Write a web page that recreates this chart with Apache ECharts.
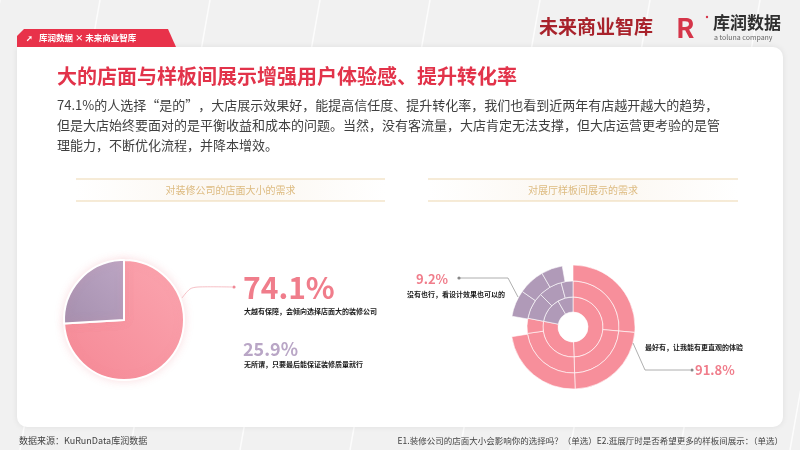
<!DOCTYPE html>
<html><head><meta charset="utf-8">
<script src="https://cdn.jsdelivr.net/npm/echarts@6/dist/echarts.min.js"></script>
<style>html,body{margin:0;padding:0;background:#f2f2f2;}#c{width:800px;height:450px;}</style>
</head><body><div id="c"></div>
<script>
// ---- data ----
const pieCats = ['大越有保障，会倾向选择店面大的装修公司', '无所谓，只要最后能保证装修质量就行'];
const pieValues = [74.1, 25.9];
const showroomCats = ['最好有，让我能有更直观的体验', '没有也行，看设计效果也可以的'];
const showroomValues = [91.8, 9.2];
// decorative ring segments of the right chart: [category index (-1 = empty), share of ring in degrees]
const ringOuter = [[0, 95], [0, 83], [0, 83], [-1, 19], [1, 25], [1, 25], [1, 20], [-1, 10]];
const ringMiddle = [[0, 95], [0, 83], [0, 84], [0, 19], [1, 34], [1, 30], [1, 15]];
const ringInner = [[0, 178], [0, 103], [1, 49], [1, 30]];

const FONT = '"Noto Sans CJK SC", "Noto Sans", sans-serif';
const PINK = '#F78F9B', PURPLE = '#B09AB8';
const chart = echarts.init(document.getElementById('c'));

function ringData(seg) {
  return seg.map(([k, v]) => ({
    value: v,
    name: k >= 0 ? showroomCats[k] : '',
    itemStyle: k >= 0 ? { color: k === 0 ? PINK : PURPLE, borderColor: 'rgba(255,255,255,0.6)', borderWidth: 1 }
                      : { color: 'rgba(0,0,0,0)', borderWidth: 0 }
  }));
}
function ring(seg, r0, r1) {
  return { type: 'pie', center: [573, 327], radius: [r0, r1], startAngle: 90, clockwise: true,
    silent: true, label: { show: false }, labelLine: { show: false }, data: ringData(seg) };
}

// background diagonal lines
const bgLines = [];
[-60, 40, 150, 260, 370, 480, 590, 700, 810].forEach(x => {
  bgLines.push({ type: 'line', shape: { x1: x + 60, y1: 0, x2: x - 20, y2: 450 }, style: { stroke: '#ffffff', lineWidth: 1.5, opacity: 0.8 }, z: 0 });
});

const titleBox = (x, w, txt) => ([
  { type: 'rect', shape: { x: x, y: 179, width: w, height: 22 },
    style: { fill: new echarts.graphic.LinearGradient(0, 0, 1, 0, [{ offset: 0, color: '#ffffff' }, { offset: 0.5, color: '#FBF6EF' }, { offset: 1, color: '#ffffff' }]) }, z: 2 },
  { type: 'line', shape: { x1: x, y1: 179, x2: x + w, y2: 179 }, style: { stroke: '#EDD7AF', lineWidth: 1 }, z: 3 },
  { type: 'line', shape: { x1: x, y1: 201, x2: x + w, y2: 201 }, style: { stroke: '#EDD7AF', lineWidth: 1 }, z: 3 },
  { type: 'text', x: x + w / 2, y: 190, style: { text: txt, fill: '#DDBB80', font: '10px ' + FONT, align: 'center', verticalAlign: 'middle' }, z: 3 }
]);

const txt = (x, y, text, font, fill, align) => ({ type: 'text', x, y, z: 10,
  style: { text, font: font + ' ' + FONT, fill, align: align || 'left', verticalAlign: 'middle' } });
const pline = (pts, color, smooth) => ({ type: 'polyline', shape: { points: pts, smooth: smooth || 0 }, style: { stroke: color, lineWidth: 0.8, fill: null }, z: 10 });
const dot = (x, y, color) => ({ type: 'circle', shape: { cx: x, cy: y, r: 1.6 }, style: { fill: color }, z: 10 });

const graphics = [].concat(
  [{ type: 'rect', shape: { x: 0, y: 0, width: 800, height: 450 }, style: { fill: '#F1F1F1' }, z: 0 }],
  bgLines,
  [
    // card
    { type: 'rect', shape: { x: 17, y: 47, width: 766, height: 380, r: [0, 10, 10, 10] },
      style: { fill: '#ffffff', shadowBlur: 6, shadowColor: 'rgba(0,0,0,0.08)' }, z: 1 },
    // tab
    { type: 'polygon', shape: { points: [[17, 36], [24, 29], [168, 29], [176, 47], [17, 47]] }, style: { fill: '#E8324A' }, z: 2 },
    txt(26, 38, '➚', 'bold 8px', '#ffffff'),
    txt(39, 38, '库润数据 × 未来商业智库', 'bold 8.5px', '#ffffff'),
    // logos
    txt(539, 27, '未来商业智库', 'bold 19px', '#A8222B'),
    txt(676, 28, 'R', 'bold 27px', '#D53549'),
    { type: 'circle', shape: { cx: 707, cy: 17, r: 1.2 }, style: { fill: '#D53549' }, z: 10 },
    txt(713, 23, '库润数据', 'bold 17px', '#2f2f2f'),
    txt(714, 37, 'a toluna company', '7px', '#666666'),
    // title & body
    txt(57, 76, '大的店面与样板间展示增强用户体验感、提升转化率', 'bold 20px', '#E2334A'),
    txt(57, 105, '74.1%的人选择“是的”，大店展示效果好，能提高信任度、提升转化率，我们也看到近两年有店越开越大的趋势，', '13px', '#404040'),
    txt(57, 125, '但是大店始终要面对的是平衡收益和成本的问题。当然，没有客流量，大店肯定无法支撑，但大店运营更考验的是管', '13px', '#404040'),
    txt(57, 145, '理能力，不断优化流程，并降本增效。', '13px', '#404040')
  ],
  titleBox(76, 309, '对装修公司的店面大小的需求'),
  titleBox(428, 310, '对展厅样板间展示的需求'),
  [
    // left annotations
    pline([[182, 298], [190, 289], [198, 287], [232, 287]], '#F4B0B8', 0.3), dot(234, 287, '#F08996'),
    txt(243, 288, pieValues[0].toFixed(1) + '%', 'bold 30px', '#F07D8B'),
    txt(244, 311, pieCats[0], 'bold 7px', '#1a1a1a'),
    txt(243, 349, pieValues[1].toFixed(1) + '%', 'bold 18px', '#B9A6C6'),
    txt(244, 364, pieCats[1], 'bold 7px', '#1a1a1a'),
    // right annotations
    txt(416, 279, showroomValues[1].toFixed(1) + '%', 'bold 13px', '#F07D8B'),
    txt(407, 294, showroomCats[1], 'bold 7px', '#1a1a1a'),
    pline([[460, 278], [508, 278], [518, 297]], '#9a9a9a'), dot(459, 278, '#888888'),
    txt(645, 347, showroomCats[0], 'bold 7px', '#1a1a1a'),
    pline([[633, 343], [645, 370], [690, 370]], '#9a9a9a'), dot(692, 370, '#888888'),
    txt(695, 370, showroomValues[0].toFixed(1) + '%', 'bold 13px', '#F07D8B'),
    // footer
    txt(19, 441, '数据来源：KuRunData库润数据', '9px', '#444444'),
    txt(783, 441, 'E1.装修公司的店面大小会影响你的选择吗？（单选）E2.逛展厅时是否希望更多的样板间展示：（单选）', '8.5px', '#444444', 'right')
  ]
);

chart.setOption({
  animation: false,
  graphic: { elements: graphics },
  series: [
    { type: 'pie', center: [124, 320], radius: [0, 60], startAngle: 90, clockwise: true, silent: true, z: 5,
      label: { show: false }, labelLine: { show: false },
      itemStyle: { borderColor: '#ffffff', borderWidth: 2, shadowBlur: 8, shadowColor: 'rgba(240,140,150,0.25)' },
      data: pieCats.map((n, i) => ({ name: n, value: pieValues[i], itemStyle: { color: i === 0
        ? new echarts.graphic.LinearGradient(1, 0, 0, 1, [{ offset: 0, color: '#FBA6B0' }, { offset: 1, color: '#F58895' }])
        : new echarts.graphic.LinearGradient(1, 0, 0, 1, [{ offset: 0, color: '#BCA6C4' }, { offset: 1, color: '#A58FAE' }]) } })) },
    ring(ringInner, 15, 30),
    ring(ringMiddle, 30, 46),
    ring(ringOuter, 46, 62)
  ]
});
</script></body></html>
